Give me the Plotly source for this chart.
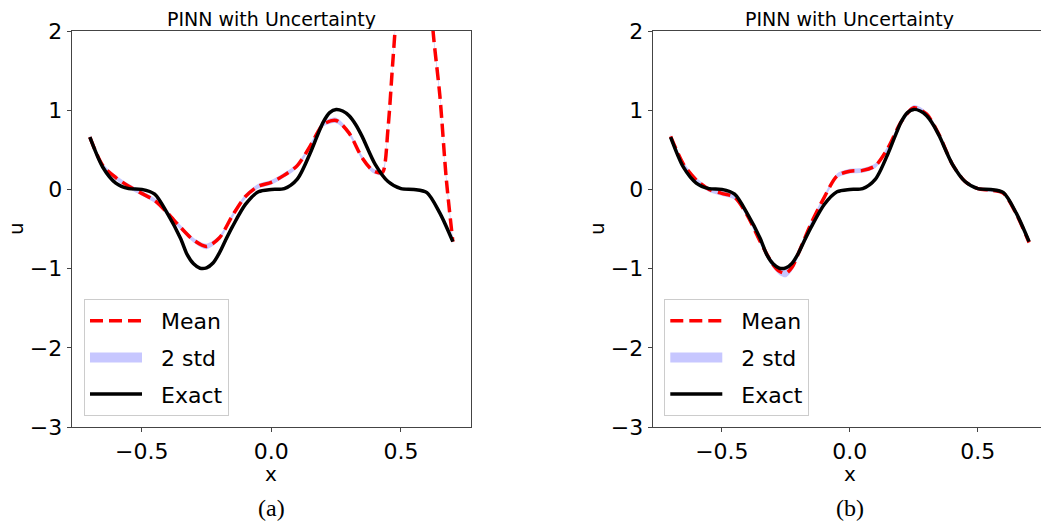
import plotly.graph_objects as go

# ---------------- data ----------------
x_exact = [-0.70, -0.65, -0.60, -0.55, -0.50, -0.45, -0.40, -0.35, -0.325, -0.30,
           -0.275, -0.25, -0.225, -0.20, -0.175, -0.15, -0.10, -0.05, 0.00, 0.05,
           0.10, 0.15, 0.175, 0.20, 0.225, 0.25, 0.275, 0.30, 0.325, 0.35,
           0.40, 0.45, 0.50, 0.55, 0.60, 0.65, 0.70]
u_exact = [0.66, 0.28, 0.08, 0.01, 0.00, -0.06, -0.31, -0.62, -0.82, -0.94,
           -0.995, -0.99, -0.93, -0.80, -0.63, -0.47, -0.19, -0.03, 0.00, 0.01,
           0.13, 0.46, 0.66, 0.85, 0.97, 1.01, 0.99, 0.93, 0.82, 0.67,
           0.32, 0.10, 0.01, 0.00, -0.04, -0.30, -0.66]

# panel (a): prediction blows up near x = 0.5
x_mean_a = [-0.70, -0.65, -0.60, -0.55, -0.50, -0.45, -0.40, -0.35, -0.30, -0.25,
            -0.20, -0.15, -0.10, -0.05, 0.00, 0.05, 0.10, 0.15, 0.20, 0.25,
            0.30, 0.35, 0.39, 0.415, 0.43, 0.45, 0.47, 0.50, 0.55, 0.60,
            0.625, 0.65, 0.675, 0.70]
u_mean_a = [0.66, 0.30, 0.15, 0.04, -0.05, -0.14, -0.30, -0.48, -0.64, -0.72,
            -0.61, -0.33, -0.09, 0.04, 0.09, 0.18, 0.30, 0.55, 0.82, 0.87,
            0.71, 0.40, 0.24, 0.21, 0.22, 0.77, 1.68, 2.9, 3.8, 3.0,
            1.95, 1.18, 0.12, -0.66]
std_a = [0.03, 0.03, 0.03, 0.03, 0.03, 0.03, 0.03, 0.03, 0.03, 0.035,
         0.03, 0.03, 0.03, 0.03, 0.03, 0.03, 0.03, 0.03, 0.03, 0.035,
         0.03, 0.03, 0.03, 0.03, 0.035, 0.04, 0.04, 0.05, 0.05, 0.05,
         0.04, 0.04, 0.04, 0.04]

# panel (b)
x_mean_b = [-0.70, -0.65, -0.60, -0.55, -0.50, -0.45, -0.40, -0.35, -0.30, -0.275,
            -0.25, -0.225, -0.20, -0.15, -0.10, -0.05, 0.00, 0.05, 0.10, 0.15,
            0.20, 0.25, 0.30, 0.35, 0.40, 0.45, 0.50, 0.55, 0.60, 0.65, 0.70]
u_mean_b = [0.67, 0.32, 0.12, 0.00, -0.05, -0.10, -0.33, -0.66, -0.95, -1.035,
            -1.06, -0.98, -0.80, -0.42, -0.10, 0.17, 0.23, 0.24, 0.30, 0.53,
            0.85, 1.03, 0.95, 0.68, 0.32, 0.10, 0.01, -0.01, -0.05, -0.31, -0.67]
std_b = [0.03, 0.03, 0.03, 0.03, 0.03, 0.03, 0.03, 0.035, 0.04, 0.045,
         0.05, 0.045, 0.04, 0.03, 0.03, 0.03, 0.03, 0.03, 0.03, 0.03,
         0.03, 0.035, 0.03, 0.02, 0.02, 0.02, 0.02, 0.02, 0.02, 0.02, 0.02]

y_ticks = [-3, -2, -1, 0, 1, 2]
x_ticks = [-0.5, 0.0, 0.5]
x_tick_text = ["\u22120.5", "0.0", "0.5"]
panel_title = "PINN with Uncertainty"
captions = ["(a)", "(b)"]
legend_names = ["Mean", "2 std", "Exact"]

# ---------------- figure ----------------
# the page body adds an 8px margin, so the figure is laid out in a
# (1049-8) x (522-8) box and all pixel positions are shifted by 8px
OFF = 8
W, H = 1049 - OFF, 522 - OFF
FONT = "DejaVu Sans"
RED = "#ff0000"
BAND = "rgba(0,0,255,0.22)"
DASH = "13px,6px"
PAD = "\u00a0\u00a0"


def fx(px):
    return (px - OFF) / W


def fy(py):
    return 1 - (py - OFF) / H


fig = go.Figure()


def add_panel(xm, um, sd, xa, ya, legend):
    lower = [m - s for m, s in zip(um, sd)]
    upper = [m + s for m, s in zip(um, sd)]
    fig.add_trace(go.Scatter(x=xm, y=lower, mode="lines",
                             line=dict(width=0, shape="spline", smoothing=0.8),
                             showlegend=False, hoverinfo="skip",
                             xaxis=xa, yaxis=ya))
    fig.add_trace(go.Scatter(x=xm, y=upper, mode="lines", fill="tonexty",
                             fillcolor=BAND,
                             line=dict(width=0, shape="spline", smoothing=0.8),
                             showlegend=False, hoverinfo="skip",
                             xaxis=xa, yaxis=ya))
    fig.add_trace(go.Scatter(x=xm, y=um, mode="lines",
                             line=dict(color=RED, width=3.5, dash=DASH,
                                       shape="spline", smoothing=0.8),
                             name=PAD + legend_names[0], legend=legend, legendrank=1,
                             legendgroup=legend + "1m",
                             xaxis=xa, yaxis=ya))
    # legend entry for the 2-std band (drawn as a thick swatch)
    fig.add_trace(go.Scatter(x=[None], y=[None], mode="lines",
                             line=dict(color=BAND, width=17),
                             name=PAD + legend_names[1], legend=legend, legendrank=2,
                             legendgroup=legend + "2s",
                             xaxis=xa, yaxis=ya))
    fig.add_trace(go.Scatter(x=x_exact, y=u_exact, mode="lines",
                             line=dict(color="black", width=3.5,
                                       shape="spline", smoothing=0.8),
                             name=PAD + legend_names[2], legend=legend, legendrank=3,
                             legendgroup=legend + "3e",
                             xaxis=xa, yaxis=ya))


add_panel(x_mean_a, u_mean_a, std_a, "x", "y", "legend")
add_panel(x_mean_b, u_mean_b, std_b, "x2", "y2", "legend2")

ax_common = dict(showgrid=False, zeroline=False, showline=True, mirror=True,
                 linecolor="#444444", linewidth=1.2, ticks="outside", ticklen=4,
                 tickwidth=1.2, tickcolor="#444444", automargin=False,
                 tickfont=dict(family=FONT, size=22, color="black"))

y_dom = [fy(427), fy(31)]
xa1 = dict(ax_common, domain=[fx(71.7), fx(471)], range=[-0.77, 0.77],
           tickvals=x_ticks, ticktext=x_tick_text, anchor="y")
xa2 = dict(ax_common, domain=[fx(652.7), fx(1047)], range=[-0.77, 0.77],
           tickvals=x_ticks, ticktext=x_tick_text, anchor="y2")
ya1 = dict(ax_common, domain=y_dom, range=[-3, 2], tickvals=y_ticks, anchor="x")
ya2 = dict(ax_common, domain=y_dom, range=[-3, 2], tickvals=y_ticks, anchor="x2")

leg_common = dict(bgcolor="white", bordercolor="#cccccc", borderwidth=1,
                  font=dict(family=FONT, size=22, color="black"),
                  xanchor="left", yanchor="top", tracegroupgap=5,
                  itemwidth=52, traceorder="grouped")

annotations = []
for i, xd in enumerate([xa1, xa2]):
    cx = (xd["domain"][0] + xd["domain"][1]) / 2
    annotations.append(dict(text=panel_title, xref="paper", yref="paper",
                            x=cx, y=fy(18.5), yanchor="middle", xanchor="center",
                            height=20, showarrow=False,
                            font=dict(family=FONT, size=19, color="black")))
    annotations.append(dict(text="x", xref="paper", yref="paper",
                            x=cx, y=fy(474), yanchor="middle", xanchor="center",
                            height=18, showarrow=False,
                            font=dict(family=FONT, size=20, color="black")))
    ux = 16 if i == 0 else 597
    annotations.append(dict(text="u", xref="paper", yref="paper",
                            x=fx(ux), y=fy(229), yanchor="middle",
                            xanchor="center", textangle=-90, height=18,
                            showarrow=False,
                            font=dict(family=FONT, size=20, color="black")))
    annotations.append(dict(text=captions[i], xref="paper", yref="paper",
                            x=cx, y=fy(508), yanchor="middle", xanchor="center",
                            showarrow=False,
                            font=dict(family="Liberation Serif", size=24,
                                      color="black")))

fig.update_layout(
    width=W, height=H, autosize=False,
    margin=dict(l=0, r=0, t=0, b=0, autoexpand=False),
    paper_bgcolor="white", plot_bgcolor="white",
    xaxis=xa1, yaxis=ya1, xaxis2=xa2, yaxis2=ya2,
    legend=dict(leg_common, x=fx(84), y=fy(299)),
    legend2=dict(leg_common, x=fx(664.3), y=fy(299)),
    annotations=annotations,
    showlegend=True,
)

fig.write_html("out.html")
